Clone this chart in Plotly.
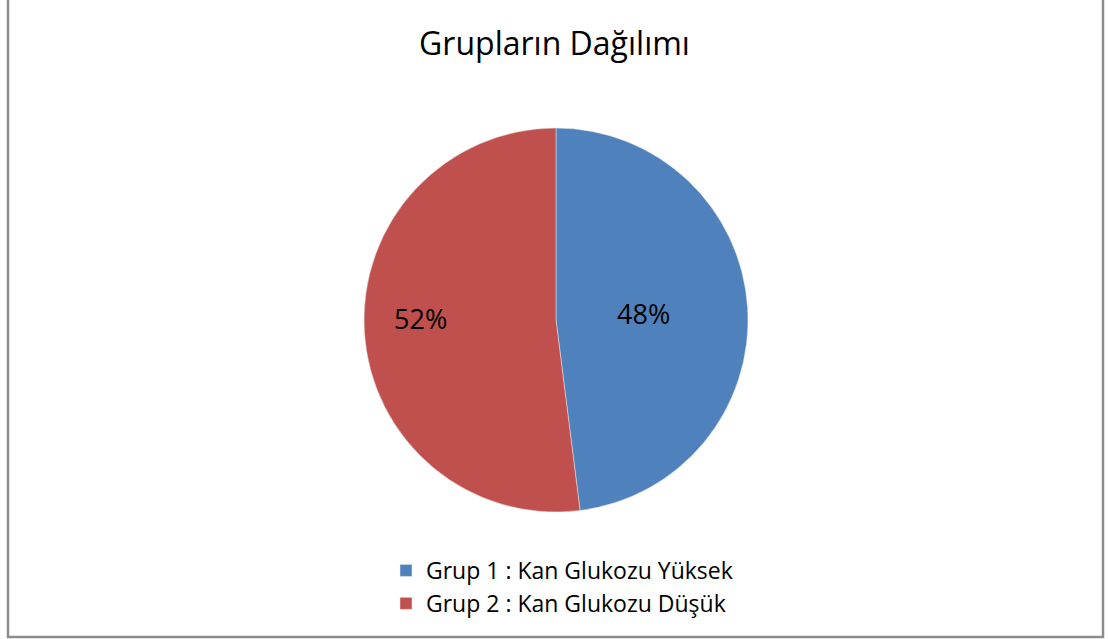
import plotly.graph_objects as go

labels = ["Grup 1 : Kan Glukozu Yüksek", "Grup 2 : Kan Glukozu Düşük"]
values = [48, 52]
colors = ["#4f81bd", "#c0504d"]
title = "Grupların Dağılımı"

W, H = 1109, 639
def px(x): return x / W
def py(y): return 1 - y / H

total = sum(values)
pct = [f"{round(v / total * 100)}%" for v in values]

fig = go.Figure(go.Pie(
    labels=labels, values=values, sort=False, direction="clockwise", rotation=0,
    marker=dict(colors=colors, line=dict(color="#e8e8e8", width=0.5)),
    textinfo="none",
    domain=dict(x=[px(364), px(748)], y=[py(512), py(128)]),
    hoverinfo="label+percent",
))

# percentage labels placed like the original (Excel-style positions)
label_pos = [(643, 313), (420, 318)]
annotations = [dict(text=t, x=px(x), y=py(y), xref="paper", yref="paper",
                    showarrow=False, xanchor="center", yanchor="middle",
                    font=dict(family="Open Sans", size=27, color="black"))
               for t, (x, y) in zip(pct, label_pos)]

fig.update_layout(
    width=W, height=H,
    margin=dict(l=0, r=0, t=0, b=0),
    paper_bgcolor="white",
    font=dict(family="Open Sans", color="black"),
    title=dict(text=title, x=0.5, xanchor="center", y=py(44), yanchor="middle",
               font=dict(family="Open Sans", size=32, color="black")),
    legend=dict(x=px(386), y=py(549), xanchor="left", yanchor="top",
                font=dict(family="Open Sans", size=23, color="black"),
                itemwidth=30, tracegroupgap=0),
    annotations=annotations,
    shapes=[dict(type="rect", xref="paper", yref="paper",
                 x0=px(8), x1=px(1103), y0=py(637), y1=py(-5),
                 line=dict(color="#8c8c8c", width=2.5))],
)

fig.write_html("out.html", config={"displayModeBar": False},
               post_script="document.body.style.margin='0';document.body.style.overflow='hidden';")
